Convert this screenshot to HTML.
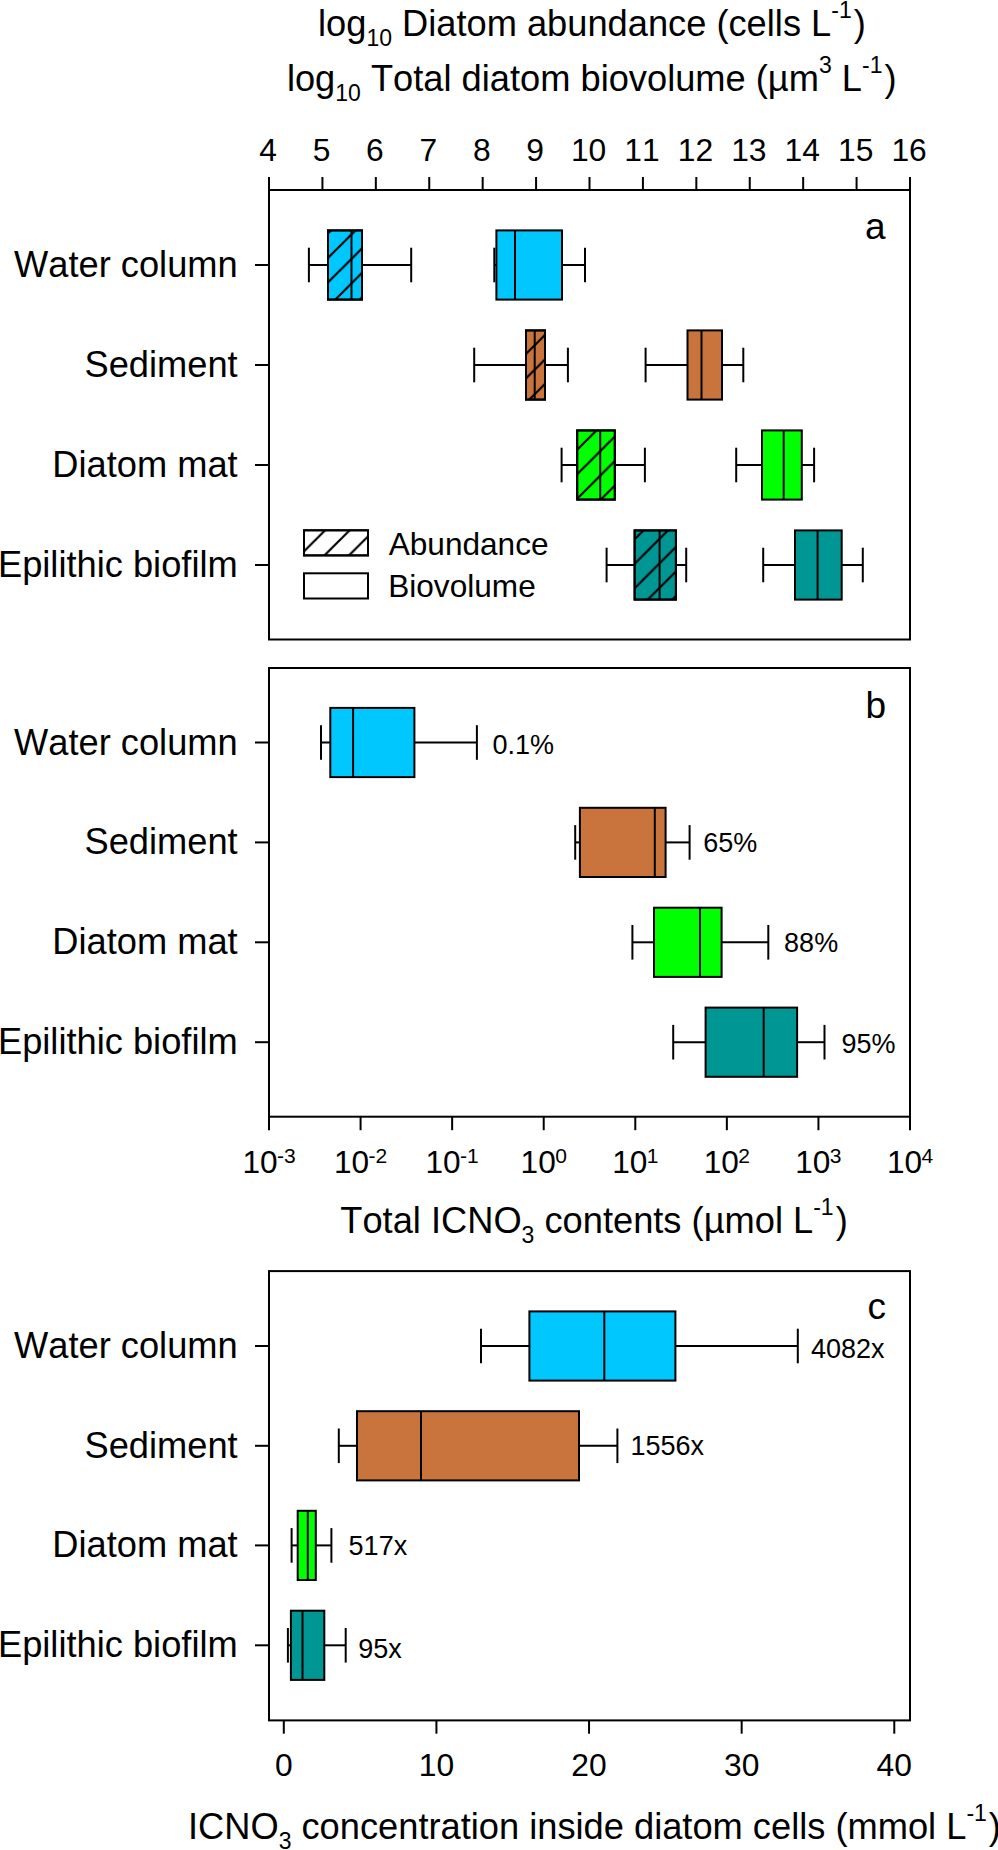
<!DOCTYPE html>
<html><head><meta charset="utf-8"><title>Diatom ICNO3 figure</title>
<style>
html,body{margin:0;padding:0;background:#fff;}
svg{display:block;}
text{font-family:"Liberation Sans", Arial, sans-serif;fill:#000;font-kerning:none;}
</style></head><body>
<svg width="998" height="1850" viewBox="0 0 998 1850">
<defs>
<pattern id="hatch" patternUnits="userSpaceOnUse" width="24.5" height="24.5" patternTransform="translate(22.4 0)">
<line x1="-2" y1="26.5" x2="26.5" y2="-2" stroke="#000" stroke-width="2.2"/>
<line x1="-26.5" y1="26.5" x2="2" y2="-2" stroke="#000" stroke-width="2.2"/>
<line x1="22.5" y1="26.5" x2="51" y2="-2" stroke="#000" stroke-width="2.2"/>
</pattern>
</defs>
<rect width="998" height="1850" fill="#fff"/>

<text x="591.9" y="35.7" font-size="36.25" text-anchor="middle">log<tspan font-size="23" dy="10">10</tspan><tspan dy="-10"> Diatom abundance (cells L</tspan><tspan font-size="23" dy="-18">-1</tspan><tspan dy="18" dx="2">)</tspan></text>
<text x="591.7" y="91.2" font-size="36.25" text-anchor="middle">log<tspan font-size="23" dy="10">10</tspan><tspan dy="-10"> Total diatom biovolume (µm</tspan><tspan font-size="23" dy="-18">3</tspan><tspan dy="18"> L</tspan><tspan font-size="23" dy="-18">-1</tspan><tspan dy="18" dx="2">)</tspan></text>
<g stroke="#000" stroke-width="2" fill="none" stroke-linecap="butt">
<rect x="269" y="190" width="641" height="449.50"/>
<rect x="269" y="668" width="641" height="448.70"/>
<rect x="269" y="1271.1" width="641" height="449.30"/>
<line x1="269.00" y1="190" x2="269.00" y2="177"/>
<line x1="322.42" y1="190" x2="322.42" y2="177"/>
<line x1="375.83" y1="190" x2="375.83" y2="177"/>
<line x1="429.25" y1="190" x2="429.25" y2="177"/>
<line x1="482.67" y1="190" x2="482.67" y2="177"/>
<line x1="536.08" y1="190" x2="536.08" y2="177"/>
<line x1="589.50" y1="190" x2="589.50" y2="177"/>
<line x1="642.92" y1="190" x2="642.92" y2="177"/>
<line x1="696.33" y1="190" x2="696.33" y2="177"/>
<line x1="749.75" y1="190" x2="749.75" y2="177"/>
<line x1="803.17" y1="190" x2="803.17" y2="177"/>
<line x1="856.58" y1="190" x2="856.58" y2="177"/>
<line x1="910.00" y1="190" x2="910.00" y2="177"/>
<line x1="269.00" y1="1116.7" x2="269.00" y2="1130.2"/>
<line x1="360.57" y1="1116.7" x2="360.57" y2="1130.2"/>
<line x1="452.14" y1="1116.7" x2="452.14" y2="1130.2"/>
<line x1="543.71" y1="1116.7" x2="543.71" y2="1130.2"/>
<line x1="635.29" y1="1116.7" x2="635.29" y2="1130.2"/>
<line x1="726.86" y1="1116.7" x2="726.86" y2="1130.2"/>
<line x1="818.43" y1="1116.7" x2="818.43" y2="1130.2"/>
<line x1="910.00" y1="1116.7" x2="910.00" y2="1130.2"/>
<line x1="283.80" y1="1720.4" x2="283.80" y2="1733.7"/>
<line x1="436.42" y1="1720.4" x2="436.42" y2="1733.7"/>
<line x1="589.04" y1="1720.4" x2="589.04" y2="1733.7"/>
<line x1="741.66" y1="1720.4" x2="741.66" y2="1733.7"/>
<line x1="894.28" y1="1720.4" x2="894.28" y2="1733.7"/>
<line x1="269" y1="265" x2="255" y2="265"/>
<line x1="269" y1="365" x2="255" y2="365"/>
<line x1="269" y1="465" x2="255" y2="465"/>
<line x1="269" y1="565" x2="255" y2="565"/>
<line x1="269" y1="742.5" x2="255" y2="742.5"/>
<line x1="269" y1="842.4" x2="255" y2="842.4"/>
<line x1="269" y1="942.3" x2="255" y2="942.3"/>
<line x1="269" y1="1042.2" x2="255" y2="1042.2"/>
<line x1="269" y1="1346" x2="255" y2="1346"/>
<line x1="269" y1="1445.8" x2="255" y2="1445.8"/>
<line x1="269" y1="1545.4" x2="255" y2="1545.4"/>
<line x1="269" y1="1645.3" x2="255" y2="1645.3"/>
</g>
<g stroke="#000" stroke-width="2" stroke-linecap="butt">
<line x1="308.9" y1="265" x2="328" y2="265"/>
<line x1="362" y1="265" x2="411.2" y2="265"/>
<line x1="308.9" y1="247.7" x2="308.9" y2="282.3"/>
<line x1="411.2" y1="247.7" x2="411.2" y2="282.3"/>
<rect x="328" y="230.4" width="34.00" height="69.20" fill="#00C8FF"/>
<rect x="328" y="230.4" width="34.00" height="69.20" fill="url(#hatch)" stroke="none"/>
<rect x="328" y="230.4" width="34.00" height="69.20" fill="none"/>
<line x1="351.5" y1="230.4" x2="351.5" y2="299.6"/>
<line x1="494.3" y1="265" x2="496.4" y2="265"/>
<line x1="562" y1="265" x2="585" y2="265"/>
<line x1="494.3" y1="247.7" x2="494.3" y2="282.3"/>
<line x1="585" y1="247.7" x2="585" y2="282.3"/>
<rect x="496.4" y="230.4" width="65.60" height="69.20" fill="#00C8FF"/>
<line x1="515" y1="230.4" x2="515" y2="299.6"/>
<line x1="321" y1="742.5" x2="330.3" y2="742.5"/>
<line x1="414.4" y1="742.5" x2="476.9" y2="742.5"/>
<line x1="321" y1="725.2" x2="321" y2="759.8"/>
<line x1="476.9" y1="725.2" x2="476.9" y2="759.8"/>
<rect x="330.3" y="707.9" width="84.10" height="69.20" fill="#00C8FF"/>
<line x1="353.1" y1="707.9" x2="353.1" y2="777.1"/>
<line x1="481" y1="1346" x2="529.4" y2="1346"/>
<line x1="675.4" y1="1346" x2="797.8" y2="1346"/>
<line x1="481" y1="1328.7" x2="481" y2="1363.3"/>
<line x1="797.8" y1="1328.7" x2="797.8" y2="1363.3"/>
<rect x="529.4" y="1311.4" width="146.00" height="69.20" fill="#00C8FF"/>
<line x1="604.3" y1="1311.4" x2="604.3" y2="1380.6"/>
<line x1="474.2" y1="365" x2="526" y2="365"/>
<line x1="545" y1="365" x2="567.9" y2="365"/>
<line x1="474.2" y1="347.7" x2="474.2" y2="382.3"/>
<line x1="567.9" y1="347.7" x2="567.9" y2="382.3"/>
<rect x="526" y="330.4" width="19.00" height="69.20" fill="#C8743C"/>
<rect x="526" y="330.4" width="19.00" height="69.20" fill="url(#hatch)" stroke="none"/>
<rect x="526" y="330.4" width="19.00" height="69.20" fill="none"/>
<line x1="534.7" y1="330.4" x2="534.7" y2="399.6"/>
<line x1="645.6" y1="365" x2="687.5" y2="365"/>
<line x1="722" y1="365" x2="743.3" y2="365"/>
<line x1="645.6" y1="347.7" x2="645.6" y2="382.3"/>
<line x1="743.3" y1="347.7" x2="743.3" y2="382.3"/>
<rect x="687.5" y="330.4" width="34.50" height="69.20" fill="#C8743C"/>
<line x1="701.5" y1="330.4" x2="701.5" y2="399.6"/>
<line x1="575.2" y1="842.4" x2="579.9" y2="842.4"/>
<line x1="665.6" y1="842.4" x2="689.6" y2="842.4"/>
<line x1="575.2" y1="825.1" x2="575.2" y2="859.6999999999999"/>
<line x1="689.6" y1="825.1" x2="689.6" y2="859.6999999999999"/>
<rect x="579.9" y="807.8" width="85.70" height="69.20" fill="#C8743C"/>
<line x1="654.8" y1="807.8" x2="654.8" y2="877.0"/>
<line x1="338.8" y1="1445.8" x2="357" y2="1445.8"/>
<line x1="579" y1="1445.8" x2="617.4" y2="1445.8"/>
<line x1="338.8" y1="1428.5" x2="338.8" y2="1463.1"/>
<line x1="617.4" y1="1428.5" x2="617.4" y2="1463.1"/>
<rect x="357" y="1411.2" width="222.00" height="69.20" fill="#C8743C"/>
<line x1="421" y1="1411.2" x2="421" y2="1480.3999999999999"/>
<line x1="561.6" y1="465" x2="577.2" y2="465"/>
<line x1="614.8" y1="465" x2="644.9" y2="465"/>
<line x1="561.6" y1="447.7" x2="561.6" y2="482.3"/>
<line x1="644.9" y1="447.7" x2="644.9" y2="482.3"/>
<rect x="577.2" y="430.4" width="37.60" height="69.20" fill="#00FF00"/>
<rect x="577.2" y="430.4" width="37.60" height="69.20" fill="url(#hatch)" stroke="none"/>
<rect x="577.2" y="430.4" width="37.60" height="69.20" fill="none"/>
<line x1="600.2" y1="430.4" x2="600.2" y2="499.6"/>
<line x1="736.2" y1="465" x2="762" y2="465"/>
<line x1="801.8" y1="465" x2="814.1" y2="465"/>
<line x1="736.2" y1="447.7" x2="736.2" y2="482.3"/>
<line x1="814.1" y1="447.7" x2="814.1" y2="482.3"/>
<rect x="762" y="430.4" width="39.80" height="69.20" fill="#00FF00"/>
<line x1="783.7" y1="430.4" x2="783.7" y2="499.6"/>
<line x1="632.4" y1="942.3" x2="654" y2="942.3"/>
<line x1="721.6" y1="942.3" x2="768.3" y2="942.3"/>
<line x1="632.4" y1="925.0" x2="632.4" y2="959.5999999999999"/>
<line x1="768.3" y1="925.0" x2="768.3" y2="959.5999999999999"/>
<rect x="654" y="907.6999999999999" width="67.60" height="69.20" fill="#00FF00"/>
<line x1="700" y1="907.6999999999999" x2="700" y2="976.9"/>
<line x1="291.6" y1="1545.4" x2="297.7" y2="1545.4"/>
<line x1="315.8" y1="1545.4" x2="331.4" y2="1545.4"/>
<line x1="291.6" y1="1528.1000000000001" x2="291.6" y2="1562.7"/>
<line x1="331.4" y1="1528.1000000000001" x2="331.4" y2="1562.7"/>
<rect x="297.7" y="1510.8000000000002" width="18.10" height="69.20" fill="#00FF00"/>
<line x1="307.8" y1="1510.8000000000002" x2="307.8" y2="1580.0"/>
<line x1="606.6" y1="565" x2="634.6" y2="565"/>
<line x1="675.9" y1="565" x2="686.2" y2="565"/>
<line x1="606.6" y1="547.7" x2="606.6" y2="582.3"/>
<line x1="686.2" y1="547.7" x2="686.2" y2="582.3"/>
<rect x="634.6" y="530.4" width="41.30" height="69.20" fill="#009694"/>
<rect x="634.6" y="530.4" width="41.30" height="69.20" fill="url(#hatch)" stroke="none"/>
<rect x="634.6" y="530.4" width="41.30" height="69.20" fill="none"/>
<line x1="659.6" y1="530.4" x2="659.6" y2="599.6"/>
<line x1="763.2" y1="565" x2="795" y2="565"/>
<line x1="841.7" y1="565" x2="862.8" y2="565"/>
<line x1="763.2" y1="547.7" x2="763.2" y2="582.3"/>
<line x1="862.8" y1="547.7" x2="862.8" y2="582.3"/>
<rect x="795" y="530.4" width="46.70" height="69.20" fill="#009694"/>
<line x1="817.6" y1="530.4" x2="817.6" y2="599.6"/>
<line x1="673.2" y1="1042.2" x2="705.6" y2="1042.2"/>
<line x1="797.1" y1="1042.2" x2="824.5" y2="1042.2"/>
<line x1="673.2" y1="1024.9" x2="673.2" y2="1059.5"/>
<line x1="824.5" y1="1024.9" x2="824.5" y2="1059.5"/>
<rect x="705.6" y="1007.6" width="91.50" height="69.20" fill="#009694"/>
<line x1="763.7" y1="1007.6" x2="763.7" y2="1076.8"/>
<line x1="287.9" y1="1645.3" x2="290.9" y2="1645.3"/>
<line x1="324.3" y1="1645.3" x2="345.7" y2="1645.3"/>
<line x1="287.9" y1="1628.0" x2="287.9" y2="1662.6"/>
<line x1="345.7" y1="1628.0" x2="345.7" y2="1662.6"/>
<rect x="290.9" y="1610.7" width="33.40" height="69.20" fill="#009694"/>
<line x1="302.5" y1="1610.7" x2="302.5" y2="1679.8999999999999"/>
<rect x="304" y="530.3" width="64" height="25.1" fill="#fff"/>
<rect x="304" y="530.3" width="64" height="25.1" fill="url(#hatch)" stroke="none"/>
<rect x="304" y="530.3" width="64" height="25.1" fill="none"/>
<rect x="304" y="573.3" width="64" height="25.2" fill="#fff"/>
</g>
<text x="237.7" y="277.0" font-size="36.25" text-anchor="end">Water column</text>
<text x="237.7" y="377.0" font-size="36.25" text-anchor="end">Sediment</text>
<text x="237.7" y="477.0" font-size="36.25" text-anchor="end">Diatom mat</text>
<text x="237.7" y="577.0" font-size="36.25" text-anchor="end">Epilithic biofilm</text>
<text x="237.7" y="754.5" font-size="36.25" text-anchor="end">Water column</text>
<text x="237.7" y="854.4" font-size="36.25" text-anchor="end">Sediment</text>
<text x="237.7" y="954.3" font-size="36.25" text-anchor="end">Diatom mat</text>
<text x="237.7" y="1054.2" font-size="36.25" text-anchor="end">Epilithic biofilm</text>
<text x="237.7" y="1358.0" font-size="36.25" text-anchor="end">Water column</text>
<text x="237.7" y="1457.8" font-size="36.25" text-anchor="end">Sediment</text>
<text x="237.7" y="1557.4" font-size="36.25" text-anchor="end">Diatom mat</text>
<text x="237.7" y="1657.3" font-size="36.25" text-anchor="end">Epilithic biofilm</text>
<text x="388.7" y="554.6" font-size="31.6">Abundance</text>
<text x="388.2" y="596.7" font-size="31.6">Biovolume</text>
<text x="268.10" y="161.3" font-size="31.8" text-anchor="middle">4</text>
<text x="321.52" y="161.3" font-size="31.8" text-anchor="middle">5</text>
<text x="374.93" y="161.3" font-size="31.8" text-anchor="middle">6</text>
<text x="428.35" y="161.3" font-size="31.8" text-anchor="middle">7</text>
<text x="481.77" y="161.3" font-size="31.8" text-anchor="middle">8</text>
<text x="535.18" y="161.3" font-size="31.8" text-anchor="middle">9</text>
<text x="588.60" y="161.3" font-size="31.8" text-anchor="middle">10</text>
<text x="642.02" y="161.3" font-size="31.8" text-anchor="middle">11</text>
<text x="695.43" y="161.3" font-size="31.8" text-anchor="middle">12</text>
<text x="748.85" y="161.3" font-size="31.8" text-anchor="middle">13</text>
<text x="802.27" y="161.3" font-size="31.8" text-anchor="middle">14</text>
<text x="855.68" y="161.3" font-size="31.8" text-anchor="middle">15</text>
<text x="909.10" y="161.3" font-size="31.8" text-anchor="middle">16</text>
<text x="269.00" y="1173" font-size="31.6" text-anchor="middle">10<tspan font-size="21" dx="-0.6" dy="-9.8">-3</tspan></text>
<text x="360.57" y="1173" font-size="31.6" text-anchor="middle">10<tspan font-size="21" dx="-0.6" dy="-9.8">-2</tspan></text>
<text x="452.14" y="1173" font-size="31.6" text-anchor="middle">10<tspan font-size="21" dx="-0.6" dy="-9.8">-1</tspan></text>
<text x="543.71" y="1173" font-size="31.6" text-anchor="middle">10<tspan font-size="21" dx="-0.6" dy="-9.8">0</tspan></text>
<text x="635.29" y="1173" font-size="31.6" text-anchor="middle">10<tspan font-size="21" dx="-0.6" dy="-9.8">1</tspan></text>
<text x="726.86" y="1173" font-size="31.6" text-anchor="middle">10<tspan font-size="21" dx="-0.6" dy="-9.8">2</tspan></text>
<text x="818.43" y="1173" font-size="31.6" text-anchor="middle">10<tspan font-size="21" dx="-0.6" dy="-9.8">3</tspan></text>
<text x="910.00" y="1173" font-size="31.6" text-anchor="middle">10<tspan font-size="21" dx="-0.6" dy="-9.8">4</tspan></text>
<text x="283.80" y="1776" font-size="31.8" text-anchor="middle">0</text>
<text x="436.42" y="1776" font-size="31.8" text-anchor="middle">10</text>
<text x="589.04" y="1776" font-size="31.8" text-anchor="middle">20</text>
<text x="741.66" y="1776" font-size="31.8" text-anchor="middle">30</text>
<text x="894.28" y="1776" font-size="31.8" text-anchor="middle">40</text>
<text x="865" y="238.5" font-size="37">a</text>
<text x="865.5" y="718" font-size="37">b</text>
<text x="867.5" y="1318.5" font-size="37">c</text>
<text x="492.5" y="753.6" font-size="27">0.1%</text>
<text x="703.2" y="851.9" font-size="27">65%</text>
<text x="784.1" y="951.8" font-size="27">88%</text>
<text x="841.5" y="1053.2" font-size="27">95%</text>
<text x="811" y="1358.2" font-size="27">4082x</text>
<text x="630.5" y="1455" font-size="27">1556x</text>
<text x="348.6" y="1555.1" font-size="27">517x</text>
<text x="358.3" y="1658.1" font-size="27">95x</text>
<text x="594" y="1232.7" font-size="36.25" text-anchor="middle">Total ICNO<tspan font-size="23" dy="10">3</tspan><tspan dy="-10"> contents (µmol L</tspan><tspan font-size="23" dy="-18">-1</tspan><tspan dy="18" dx="2">)</tspan></text>
<text x="188" y="1838.5" font-size="36.25">ICNO<tspan font-size="23" dy="10">3</tspan><tspan dy="-10"> concentration inside diatom cells (mmol L</tspan><tspan font-size="23" dy="-18">-1</tspan><tspan dy="18" dx="2">)</tspan></text>
</svg></body></html>
